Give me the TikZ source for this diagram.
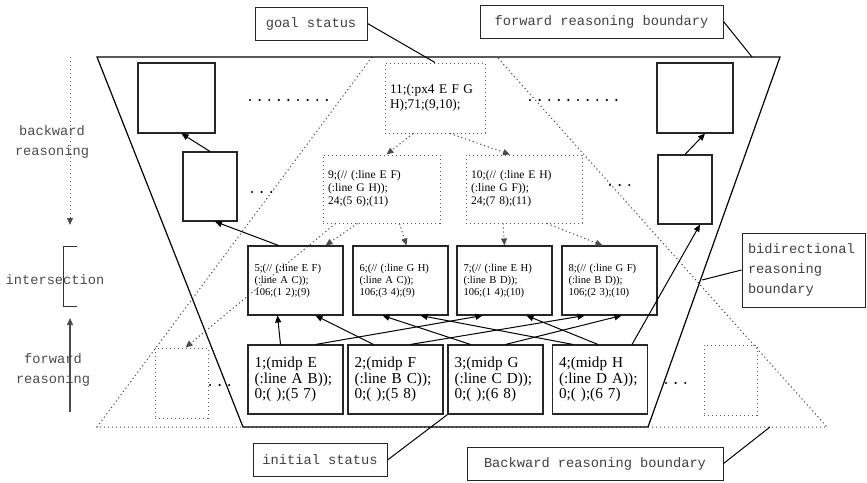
\documentclass[tikz,border=0pt]{standalone}
\usepackage{fontspec}
\setmainfont{Liberation Serif}
\setmonofont{Liberation Mono}
\usetikzlibrary{arrows.meta}

\tikzset{
  fact/.style={draw=black!85, line width=1.1pt, align=left, inner xsep=6.5pt,
    text width=82pt, minimum height=69pt},
  guess/.style={draw=black!65, line width=1pt, dash pattern=on 1.2pt off 2.8pt,
    align=left, inner xsep=5pt},
  blank/.style={draw=black!85, line width=1.1pt, inner sep=0pt},
  tag/.style={draw=black!85, line width=1pt, inner sep=0pt, minimum height=33pt,
    text=black!75, font=\ttfamily\fontsize{13.7}{20}\selectfont},
  note/.style={align=center, text=black!70, font=\ttfamily\fontsize{13.7}{20}\selectfont},
  trail/.style={black!70, line width=1pt, dash pattern=on 1.2pt off 2.8pt},
  ellip/.style={line width=2.4pt, line cap=round, dash pattern=on 0pt off 9.6pt},
  toprow/.style={font=\fontsize{13.3}{14.5}\selectfont},
  nextrow/.style={font=\fontsize{11.6}{13}\selectfont},
  midrow/.style={font=\fontsize{10.6}{12}\selectfont},
  lowrow/.style={font=\fontsize{15.2}{15.5}\selectfont}
}

\begin{document}
\begin{tikzpicture}[x=1pt, y=-1pt, line width=1pt, >={Triangle[length=7pt,width=6pt]}]
\useasboundingbox (0,0) rectangle (867,482);

% boundaries: dotted backward one below the solid forward one
\draw[trail] (372,57) -- (97,427) -- (827,427) -- (497,57);
\draw[line width=1.2pt] (97,57) -- (780,57) -- (648,427) -- (243,427) -- cycle;

% states
\node[guess, toprow, text width=90pt, minimum height=70pt] (s11) at (435,98) {11;(:px4 E F G\\H);71;(9,10);};
\node[guess, nextrow, text width=107pt, minimum height=68pt] (s9) at (381.5,189) {9;(// (:line E F)\\(:line G H));\\24;(5 6);(11)};
\node[guess, nextrow, text width=106pt, minimum height=68pt] (s10) at (524,189) {10;(// (:line E H)\\(:line G F));\\24;(7 8);(11)};

\node[fact, midrow] (s5) at (295.5,280.5) {5;(// (:line E F)\\(:line A C));\\106;(1 2);(9)};
\node[fact, midrow] (s6) at (400.5,280.5) {6;(// (:line G H)\\(:line A C));\\106;(3 4);(9)};
\node[fact, midrow] (s7) at (504.5,280.5) {7;(// (:line E H)\\(:line B D));\\106;(1 4);(10)};
\node[fact, midrow] (s8) at (609.5,280.5) {8;(// (:line G F)\\(:line B D));\\106;(2 3);(10)};

\node[fact, lowrow] (s1) at (295.5,379.5) {1;(midp E\\(:line A B));\\0;( );(5 7)};
\node[fact, lowrow] (s2) at (395.5,379.5) {2;(midp F\\(:line B C));\\0;( );(5 8)};
\node[fact, lowrow] (s3) at (495.5,379.5) {3;(midp G\\(:line C D));\\0;( );(6 8)};
\node[fact, lowrow] (s4) at (600,379.5) {4;(midp H\\(:line D A));\\0;( );(6 7)};

% empty states out on the sides
\node[blank, minimum width=77pt, minimum height=70pt] (l1) at (176.5,98) {};
\node[blank, minimum width=54pt, minimum height=69pt] (l2) at (210,186.5) {};
\node[blank, minimum width=76pt, minimum height=70pt] (r1) at (695,98) {};
\node[blank, minimum width=54pt, minimum height=69pt] (r2) at (685,189.5) {};
\node[guess, inner sep=0pt, minimum width=53pt, minimum height=70pt] (ld) at (181.5,383) {};
\node[guess, inner sep=0pt, minimum width=53pt, minimum height=70pt] (rd) at (730.5,380) {};

% ellipses
\draw[ellip] (250,100) -- (333,100);
\draw[ellip] (530,100) -- (617,100);
\draw[ellip] (252,192) -- (273,192);
\draw[ellip] (610,185) -- (632,185);
\draw[ellip] (210,385) -- (233,385);
\draw[ellip] (666,383) -- (686,383);

% forward steps
\draw[->] ([xshift=-15pt]s1.north) -- ([xshift=-18pt]s5.south);
\draw[->] ([xshift=20pt]s1.north) -- ([xshift=-22pt]s7.south);
\draw[->] ([xshift=-22pt]s2.north) -- ([xshift=20pt]s5.south);
\draw[->] ([xshift=15pt]s2.north) -- ([xshift=-25pt]s8.south);
\draw[->] ([xshift=-25pt]s3.north) -- ([xshift=-18pt]s6.south);
\draw[->] ([xshift=10pt]s3.north) -- ([xshift=12pt]s8.south);
\draw[->] ([xshift=-27pt]s4.north) -- ([xshift=20pt]s6.south);
\draw[->] ([xshift=-2pt]s4.north) -- ([xshift=22pt]s7.south);
\draw[->] ([xshift=-17pt]s5.north) -- ([xshift=5pt]l2.south);
\draw[->] (l2.north) -- ([xshift=5pt]l1.south);
\draw[->] ([xshift=32pt]s4.north) -- ([xshift=15pt]r2.south);
\draw[->] (r2.north) -- ([xshift=10pt]r1.south);

% backward steps
\draw[trail,->] ([xshift=-22pt]s11.south) -- ([xshift=5pt]s9.north);
\draw[trail,->] ([xshift=15pt]s11.south) -- ([xshift=-14pt]s10.north);
\draw[trail,->] ([xshift=-24pt]s9.south) -- ([xshift=30pt]s5.north);
\draw[trail,->] ([xshift=18pt]s9.south) -- ([xshift=6pt]s6.north);
\draw[trail,->] ([xshift=-21pt]s10.south) -- (s7.north);
\draw[trail,->] ([xshift=23pt]s10.south) -- ([xshift=-7pt]s8.north);
\draw[trail,->] ([xshift=-46pt]s9.south) -- ([xshift=4pt]ld.north);

% labels
\node[tag, minimum width=112pt] (goal) at (311,23.5) {goal status};
\node[tag, minimum width=243pt] (fwb) at (601.5,21.5) {forward reasoning boundary};
\node[tag, align=left, inner xsep=6pt, text width=111pt, minimum height=74pt] (bib) at (803.5,270) {bidirectional\\reasoning\\boundary};
\node[tag, minimum width=256pt] (bwb) at (595,463.5) {Backward reasoning boundary};
\node[tag, minimum width=134pt] (init) at (320,460) {initial status};
\coordinate (fwtip) at (752,57);
\coordinate (bitip) at (702,280);
\coordinate (bwtip) at (770,427);
\draw (goal.east) -- (s11.north);
\draw (fwb.east) -- (fwtip);
\draw (bib.west) -- (bitip);
\draw (bwb.east) -- (bwtip);
\draw (init.east) -- (s3.south west);

% direction legend on the left
\coordinate (bwtop) at (70,57);
\coordinate (bwend) at (70,225);
\coordinate (fwbot) at (70,412);
\coordinate (fwend) at (70,318);
\draw[trail,->] (bwtop) -- (bwend);
\draw[->, black!70, line width=1.2pt] (fwbot) -- (fwend);
\draw[black!80] (77,246) -- (63,246) -- (63,306) -- (77,306);
\node[note] (bwtxt) at (52,142) {backward\\reasoning};
\node[note] (sect) at (55,280) {intersection};
\node[note] (fwtxt) at (53,370) {forward\\reasoning};
\end{tikzpicture}
\end{document}
